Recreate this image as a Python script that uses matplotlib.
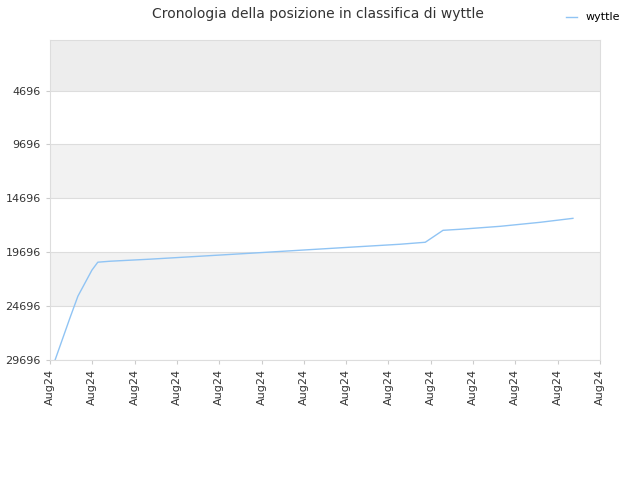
import matplotlib
matplotlib.use("Agg")
import matplotlib.pyplot as plt

x_pos = [0.12, 0.47, 0.66, 0.99, 1.13, 1.42, 2.36, 3.55, 4.73, 5.91, 7.09, 8.27, 8.87, 9.29, 9.69, 10.64, 11.58, 12.36]
rank = [29696, 25807, 23770, 21360, 20620, 20530, 20340, 20065, 19790, 19510, 19230, 18955, 18770, 17660, 17566, 17290, 16920, 16550]
yticks = [4696, 9696, 14696, 19696, 24696, 29696]
xtick_labels = ["Aug24"] * 14

fig = plt.figure(figsize=(6.4, 4.8), dpi=100)
ax = fig.add_axes([50/640, 120/480, 550/640, 320/480])
ax.set_ylim(29696, 0)
ax.set_xlim(0, 13)
bands = [(0, 4696, "#ededed"), (9696, 14696, "#f2f2f2"), (19696, 24696, "#f2f2f2")]
for a, b, c in bands:
    ax.axhspan(a, b, color=c, zorder=0, lw=0)
for t in yticks:
    ax.axhline(t, color="#dddddd", lw=0.8, zorder=1)
ax.plot(x_pos, rank, color="#90c4f4", lw=1, label="wyttle", zorder=2)
ax.set_yticks(yticks)
ax.set_yticklabels([str(t) for t in yticks], fontsize=8, color="#333333")
ax.set_xticks(range(14))
ax.set_xticklabels(xtick_labels, rotation=90, fontsize=8, color="#333333")
for s in ax.spines.values():
    s.set_color("#dddddd")
ax.tick_params(length=3, color="#cccccc")
fig.suptitle("Cronologia della posizione in classifica di wyttle", x=0.497, y=0.985, fontsize=10, color="#333333")
fig.legend(loc="upper right", bbox_to_anchor=(0.985, 0.995), frameon=False, fontsize=8, handlelength=1)
fig.savefig("out.png", dpi=100)
